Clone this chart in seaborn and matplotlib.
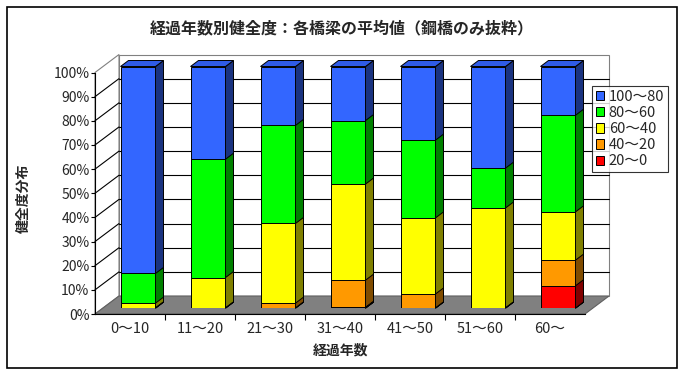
import numpy as np
import pandas as pd
import matplotlib
matplotlib.use("Agg")
import matplotlib.pyplot as plt
import matplotlib.transforms as mtransforms
from matplotlib.patches import Polygon, Rectangle, Patch
from matplotlib.lines import Line2D
import seaborn as sns

# ---------------- data ----------------
categories = ["0～10", "11～20", "21～30", "31～40", "41～50", "51～60", "60～"]
series_names = ["20～0", "40～20", "60～40", "80～60", "100～80"]  # bottom -> top
red    = [0.0, 0.0, 0.0, 0.3, 0.0, 0.0, 9.2]
orange = [0.0, 0.0, 2.0, 11.2, 5.8, 0.0, 10.6]
yellow = [2.0, 12.6, 33.0, 39.8, 31.5, 41.4, 20.0]
green  = [12.3, 49.0, 40.6, 26.3, 32.2, 16.5, 40.0]
blue   = [85.7, 38.4, 24.4, 22.4, 30.5, 42.1, 20.2]
yticks = [0, 10, 20, 30, 40, 50, 60, 70, 80, 90, 100]
ytick_labels = [f"{v}%" for v in yticks]

title = "経過年数別健全度：各橋梁の平均値（鋼橋のみ抜粋）"
xlabel = "経過年数"
ylabel = "健全度分布"

face_colors = ["#FF0000", "#FF9900", "#FFFF00", "#00FF00", "#3366FF"]
side_colors = ["#800000", "#804C00", "#808000", "#008000", "#1A3380"]
top_color = "#2F5BE8"

# ---------------- figure ----------------
sns.set_style("white")
plt.rcParams["font.family"] = ["Noto Sans CJK JP", "DejaVu Sans"]

W, H = 684, 374
fig = plt.figure(figsize=(W / 100, H / 100), dpi=100)
fig.patch.set_facecolor("white")

# pixel geometry (top-origin)
ax_left, ax_right = 95, 585          # axis (front) plane
y0_px, y100_px = 314, 72.5
bar_off = (8, 6)                      # bar front plane relative to axis plane
back_off = (24, 18)                   # back wall relative to axis plane
depth = (8, 6)                        # bar depth

def fig_rect(left, right, ybot, ytop):
    return [left / W, (H - ybot) / H, (right - left) / W, (ybot - ytop) / H]

ax = fig.add_axes(fig_rect(ax_left + bar_off[0], ax_right + bar_off[0],
                           y0_px - bar_off[1], y100_px - bar_off[1]))
ax_front = fig.add_axes(fig_rect(ax_left, ax_right, y0_px, y100_px))
for a in (ax, ax_front):
    a.set_xlim(-0.5, 6.5)
    a.set_ylim(0, 100)
    a.patch.set_visible(False)
ax.set_zorder(0)
ax_front.set_zorder(1)

ident = mtransforms.IdentityTransform()

def disp(a, x, y, dx=0.0, dy=0.0):
    p = a.transData.transform((x, y))
    return (p[0] + dx, p[1] + dy)

# back wall / floor / left wall offsets relative to bar plane
bdx, bdy = back_off[0] - bar_off[0], back_off[1] - bar_off[1]
fdx, fdy = -bar_off[0], -bar_off[1]

# back wall
bw = [disp(ax, -0.5, 0, bdx, bdy), disp(ax, 6.5, 0, bdx, bdy),
      disp(ax, 6.5, 100, bdx, bdy), disp(ax, -0.5, 100, bdx, bdy)]
ax.add_patch(Polygon(bw, closed=True, transform=ident, facecolor="white",
                     edgecolor="#808080", lw=0.8, zorder=0.1, clip_on=False))
# left wall
lw_poly = [disp(ax, -0.5, 0, fdx, fdy), disp(ax, -0.5, 0, bdx, bdy),
           disp(ax, -0.5, 100, bdx, bdy), disp(ax, -0.5, 100, fdx, fdy)]
ax.add_patch(Polygon(lw_poly, closed=True, transform=ident, facecolor="white",
                     edgecolor="#808080", lw=0.8, zorder=0.1, clip_on=False))
# floor
fl = [disp(ax, -0.5, 0, fdx, fdy), disp(ax, 6.5, 0, fdx, fdy),
      disp(ax, 6.5, 0, bdx, bdy), disp(ax, -0.5, 0, bdx, bdy)]
ax.add_patch(Polygon(fl, closed=True, transform=ident, facecolor="#808080",
                     edgecolor="#606060", lw=0.8, zorder=0.2, clip_on=False))
# gridlines on back wall and left wall
for v in yticks[1:-1]:
    p1 = disp(ax, -0.5, v, bdx, bdy)
    p2 = disp(ax, 6.5, v, bdx, bdy)
    ax.add_line(Line2D([p1[0], p2[0]], [p1[1], p2[1]], transform=ident,
                       color="black", lw=0.8, zorder=0.3, clip_on=False))
    q1 = disp(ax, -0.5, v, fdx, fdy)
    ax.add_line(Line2D([q1[0], p1[0]], [q1[1], p1[1]], transform=ident,
                       color="black", lw=0.8, zorder=0.3, clip_on=False))

# ---------------- stacked bars (seaborn) ----------------
layers = [red, orange, yellow, green, blue]
cum = np.cumsum(np.array(layers), axis=0)
# draw from top (full) down to bottom so smaller cumulative bars sit on top
for k in range(len(layers) - 1, -1, -1):
    n_before = len(ax.patches)
    df = pd.DataFrame({"cat": categories, "val": cum[k]})
    sns.barplot(data=df, x="cat", y="val", order=categories, color=face_colors[k],
                saturation=1, width=0.5, edgecolor="black", linewidth=0.7, ax=ax)
    new = ax.patches[n_before:]
    z = 2 + (len(layers) - k) * 0.1
    for p in new:
        p.set_zorder(z)
        x0, yb = p.get_x(), p.get_y()
        x1, yt = x0 + p.get_width(), yb + p.get_height()
        side = [disp(ax, x1, yb), disp(ax, x1, yb, *depth),
                disp(ax, x1, yt, *depth), disp(ax, x1, yt)]
        ax.add_patch(Polygon(side, closed=True, transform=ident,
                             facecolor=side_colors[k], edgecolor="black",
                             lw=0.7, zorder=z + 0.01, clip_on=False))
        if k == len(layers) - 1:
            top = [disp(ax, x0, yt), disp(ax, x0, yt, *depth),
                   disp(ax, x1, yt, *depth), disp(ax, x1, yt)]
            ax.add_patch(Polygon(top, closed=True, transform=ident,
                                 facecolor=top_color, edgecolor="black",
                                 lw=0.7, zorder=z + 0.01, clip_on=False))

ax.set_xlim(-0.5, 6.5)
ax.set_ylim(0, 100)
ax.set_axis_off()

# ---------------- front axis plane ----------------
for s in ("top", "right"):
    ax_front.spines[s].set_visible(False)
for s in ("left", "bottom"):
    ax_front.spines[s].set_color("black")
    ax_front.spines[s].set_linewidth(0.8)
ax_front.set_yticks(yticks)
ax_front.set_yticklabels(ytick_labels, fontsize=10)
ax_front.set_xticks(range(len(categories)))
ax_front.set_xticklabels(categories, fontsize=10.5)
ax_front.set_xticks(np.arange(0.5, 6, 1.0), minor=True)
ax_front.tick_params(axis="y", which="major", direction="out", length=3,
                     width=0.8, pad=1, color="black", left=True)
ax_front.tick_params(axis="x", which="major", length=0, pad=6, bottom=True)
ax_front.tick_params(axis="x", which="minor", direction="out", length=4,
                     width=0.8, color="black", bottom=True)
ax_front.set_xlabel(xlabel, fontsize=10, fontweight="bold")
ax_front.set_ylabel(ylabel, fontsize=10, fontweight="bold")
ax_front.xaxis.set_label_coords((341 - ax_left) / (ax_right - ax_left),
                                (y0_px - 344) / (y0_px - y100_px))
ax_front.yaxis.set_label_coords((31 - ax_left) / (ax_right - ax_left),
                                (y0_px - 198) / (y0_px - y100_px))
ax_front.grid(False)

# ---------------- title, legend, border ----------------
fig.text(342 / W, (H - 28) / H, title, ha="center", va="center",
         fontsize=11.5, fontweight="bold")

handles = [Patch(facecolor=face_colors[k], edgecolor="black", lw=0.7,
                 label=series_names[k]) for k in range(len(layers) - 1, -1, -1)]
leg = fig.legend(handles=handles, loc="upper left",
                 bbox_to_anchor=(592 / W, (H - 86) / H), fontsize=10.5,
                 frameon=True, fancybox=False, handlelength=0.6,
                 handleheight=0.6, handletextpad=0.3, borderpad=0.25,
                 labelspacing=0.15, borderaxespad=0)
leg.get_frame().set_edgecolor("black")
leg.get_frame().set_linewidth(0.8)

fig.add_artist(Rectangle((7 / W, (H - 368) / H), 670 / W, 361 / H,
                         transform=fig.transFigure, fill=False,
                         edgecolor="black", lw=1.2))

fig.savefig("out.png", dpi=100)
